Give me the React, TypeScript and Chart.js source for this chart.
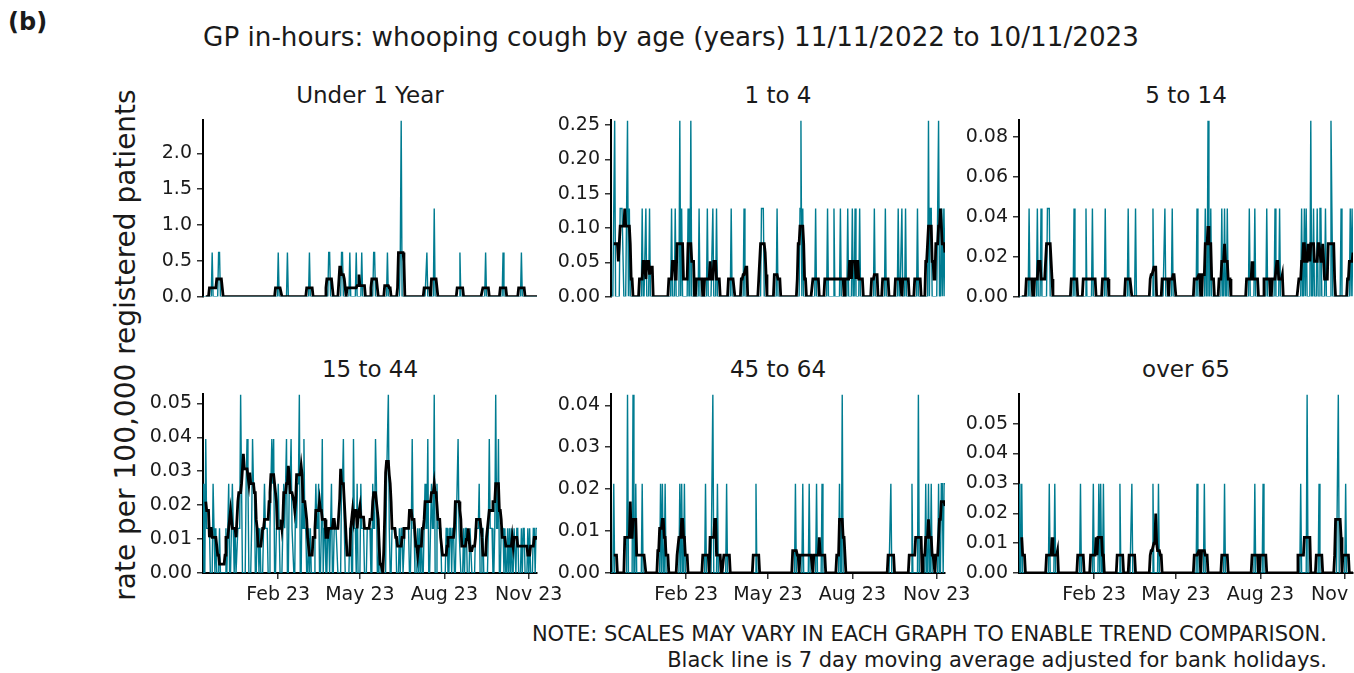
import React, { useEffect, useRef } from 'react';
import { Chart, registerables } from 'chart.js';

Chart.register(...registerables);

const FONT = "'DejaVu Sans', 'Liberation Sans', sans-serif";
Chart.defaults.font.family = FONT;

// ---- calendar: day 0 = Fri 11/11/2022 ... day 364 = Fri 10/11/2023
const NDAYS = 365;
const bankHolidayDays = [45, 46, 52, 147, 150, 171, 178, 199, 290];
const xTickDays = [82, 171, 263, 355];
const xTickLabels = ['Feb 23', 'May 23', 'Aug 23', 'Nov 23'];

// ---- Under 1 Year (rate for one patient = unit)
const under1Unit = 0.615;
const under1Days = [10, 17, 18, 82, 92, 116, 137, 138, 151, 152, 160, 167, 173, 186, 187, 201, 215, 216, 244, 252, 280, 308, 327, 347];
const under1Counts = [1, 1, 1, 1, 1, 1, 1, 1, 1, 1, 1, 1, 1, 1, 1, 1, 1, 4, 1, 2, 1, 1, 1, 1];
const under1Ticks = [0, 0.5, 1, 1.5, 2];

// ---- 1 to 4
const age1to4Unit = 0.1283;
const age1to4Days = [3, 4, 10, 11, 12, 13, 17, 18, 20, 34, 38, 42, 66, 70, 75, 77, 84, 87, 96, 105, 111, 115, 131, 145, 164, 165, 166, 181, 206, 207, 209, 223, 236, 243, 250, 258, 263, 266, 271, 287, 299, 313, 317, 321, 334, 346, 348, 349, 356, 357, 360, 362, 364];
const age1to4Counts = [1, 2, 1, 1, 1, 1, 1, 2, 1, 1, 1, 1, 1, 1, 2, 1, 1, 2, 1, 1, 1, 1, 1, 1, 1, 1, 1, 1, 1, 2, 1, 1, 1, 1, 1, 1, 1, 1, 1, 1, 1, 1, 1, 1, 1, 2, 1, 1, 1, 2, 1, 1, 1];
const age1to4Ticks = [0, 0.05, 0.1, 0.15, 0.2, 0.25];

// ---- 5 to 14
const age5to14Unit = 0.0442;
const age5to14Days = [11, 20, 24, 31, 32, 33, 60, 73, 80, 94, 119, 127, 146, 159, 167, 194, 203, 206, 209, 221, 224, 227, 251, 257, 270, 279, 284, 308, 311, 313, 318, 321, 325, 328, 329, 334, 340, 341, 351, 361, 363];
const age5to14Counts = [1, 1, 1, 1, 1, 1, 1, 1, 1, 1, 1, 1, 1, 1, 1, 1, 1, 2, 1, 1, 1, 1, 1, 1, 1, 1, 1, 1, 1, 1, 2, 1, 1, 1, 1, 1, 2, 1, 1, 1, 1];
const age5to14Ticks = [0, 0.02, 0.04, 0.06, 0.08];

// ---- 15 to 44 (weekly rows: Fri, Sat, Sun, Mon, Tue, Wed, Thu)
const age15to44Unit = 0.01316;
const age15to44Weeks = [
  [2, 0, 0, 3, 1, 1, 1], [1, 0, 0, 0, 2, 1, 0], [1, 0, 0, 0, 1, 0, 0], [0, 0, 0, 0, 1, 0, 1],
  [2, 0, 0, 1, 2, 1, 0], [1, 0, 0, 1, 1, 1, 4], [2, 0, 0, 0, 0, 2, 3], [2, 0, 0, 0, 1, 3, 2],
  [2, 0, 0, 1, 1, 0, 1], [0, 0, 0, 1, 2, 1, 1], [1, 0, 0, 1, 2, 3, 2], [3, 0, 0, 1, 1, 2, 1],
  [0, 0, 0, 1, 2, 1, 2], [3, 0, 0, 2, 2, 3, 1], [1, 0, 0, 2, 1, 2, 2], [4, 0, 0, 2, 1, 3, 1],
  [1, 0, 0, 1, 0, 1, 0], [0, 0, 0, 1, 2, 1, 1], [2, 0, 0, 1, 3, 0, 1], [1, 0, 0, 1, 1, 0, 1],
  [2, 0, 0, 1, 1, 1, 1], [0, 0, 0, 0, 2, 2, 3], [1, 0, 0, 0, 0, 0, 1], [1, 0, 0, 3, 1, 1, 0],
  [2, 0, 0, 0, 2, 1, 1], [1, 0, 0, 0, 1, 1, 1], [1, 0, 0, 2, 1, 1, 3], [2, 0, 0, 1, 0, 0, 0],
  [0, 0, 0, 0, 2, 3, 4], [1, 0, 0, 1, 1, 1, 1], [1, 0, 0, 0, 1, 0, 1], [1, 0, 0, 1, 1, 1, 1],
  [1, 0, 0, 1, 3, 1, 1], [0, 0, 0, 1, 0, 1, 0], [1, 0, 0, 1, 2, 1, 1], [3, 0, 0, 1, 2, 1, 1],
  [4, 0, 0, 2, 1, 1, 1], [1, 0, 0, 0, 0, 0, 1], [1, 0, 0, 1, 1, 0, 1], [1, 0, 0, 1, 2, 3, 1],
  [1, 0, 0, 0, 1, 0, 1], [1, 0, 0, 0, 1, 1, 0], [0, 0, 0, 1, 1, 1, 1], [2, 0, 0, 1, 1, 0, 0],
  [0, 0, 0, 1, 3, 1, 1], [1, 0, 0, 1, 4, 1, 1], [3, 0, 0, 1, 1, 1, 0], [1, 0, 0, 1, 0, 1, 0],
  [1, 0, 0, 1, 1, 0, 1], [1, 0, 0, 0, 1, 0, 1], [1, 0, 0, 0, 1, 0, 1], [0, 0, 0, 1, 1, 0, 1],
  [1],
];
const age15to44Ticks = [0, 0.01, 0.02, 0.03, 0.04, 0.05];

// ---- 45 to 64
const age45to64Unit = 0.0213;
const age45to64Days = [3, 18, 24, 27, 34, 54, 56, 59, 75, 77, 80, 103, 111, 116, 126, 158, 201, 209, 216, 224, 230, 249, 252, 305, 328, 335, 343, 346, 349, 357, 360, 361, 363, 364];
const age45to64Counts = [1, 2, 2, 1, 1, 1, 1, 1, 1, 1, 1, 1, 2, 1, 1, 1, 1, 1, 1, 1, 1, 1, 2, 1, 1, 2, 1, 1, 1, 1, 1, 1, 1, 1];
const age45to64Ticks = [0, 0.01, 0.02, 0.03, 0.04];

// ---- over 65
const over65Unit = 0.0299;
const over65Days = [0, 3, 33, 39, 67, 81, 87, 89, 92, 110, 123, 146, 152, 194, 202, 224, 257, 266, 307, 314, 327, 347, 348, 356];
const over65Counts = [1, 1, 1, 1, 1, 1, 1, 1, 1, 1, 1, 1, 1, 1, 1, 1, 1, 1, 1, 2, 1, 1, 2, 1];
const over65Ticks = [0, 0.01, 0.02, 0.03, 0.04, 0.05];

const TEAL = '#007C91';
const TEXT = '#1a1a1a';

function sparseToDaily(days: number[], counts: number[], unit: number): number[] {
  const out = new Array(NDAYS).fill(0);
  days.forEach((d, i) => {
    out[d] += counts[i] * unit;
  });
  return out;
}

function isWorkday(d: number): boolean {
  const w = d % 7; // 0 Fri, 1 Sat, 2 Sun
  return w !== 1 && w !== 2 && !bankHolidayDays.includes(d);
}

// centred 7 day moving average over working days (adjusted for bank holidays)
function movingAverage(v: number[]): (number | null)[] {
  return v.map((_, d) => {
    if (d < 3) return null;
    let s = 0;
    let n = 0;
    for (let k = d - 3; k <= d + 3; k++) {
      if (k < 0 || k >= v.length || !isWorkday(k)) continue;
      s += v[k];
      n++;
    }
    return n ? s / n : null;
  });
}

type Panel = {
  title: string;
  daily: number[];
  yTicks: number[];
  decimals: number;
  col: number;
  row: number;
};

const panels: Panel[] = [
  { title: 'Under 1 Year', daily: sparseToDaily(under1Days, under1Counts, under1Unit), yTicks: under1Ticks, decimals: 1, col: 0, row: 0 },
  { title: '1 to 4', daily: sparseToDaily(age1to4Days, age1to4Counts, age1to4Unit), yTicks: age1to4Ticks, decimals: 2, col: 1, row: 0 },
  { title: '5 to 14', daily: sparseToDaily(age5to14Days, age5to14Counts, age5to14Unit), yTicks: age5to14Ticks, decimals: 2, col: 2, row: 0 },
  { title: '15 to 44', daily: age15to44Weeks.flat().map((c) => c * age15to44Unit), yTicks: age15to44Ticks, decimals: 2, col: 0, row: 1 },
  { title: '45 to 64', daily: sparseToDaily(age45to64Days, age45to64Counts, age45to64Unit), yTicks: age45to64Ticks, decimals: 2, col: 1, row: 1 },
  { title: 'over 65', daily: sparseToDaily(over65Days, over65Counts, over65Unit), yTicks: over65Ticks, decimals: 2, col: 2, row: 1 },
];

// layout
const AXIS_X = [203, 611, 1019];
const DATA_TOP = [118, 392];
const PLOT_W = 334;
const PLOT_H = 181;
const Y_AXIS_W = 70;
const PAD_TOP = 14;
const PAD_RIGHT = 40;
const PAD_BOTTOM_NOX = 14;
const X_AXIS_H = 40;

function ChartPanel({ p }: { p: Panel }) {
  const ref = useRef<HTMLCanvasElement>(null);
  const showX = p.row === 1;
  const width = Y_AXIS_W + PLOT_W + PAD_RIGHT;
  const height = PAD_TOP + PLOT_H + (showX ? X_AXIS_H : PAD_BOTTOM_NOX);
  const left = AXIS_X[p.col] - Y_AXIS_W;
  const top = DATA_TOP[p.row] - PAD_TOP;

  useEffect(() => {
    const ma = movingAverage(p.daily);
    const yMax = Math.max(...p.daily);
    const chart = new Chart(ref.current as HTMLCanvasElement, {
      type: 'line',
      data: {
        datasets: [
          {
            data: ma.map((y, x) => ({ x, y })),
            borderColor: '#000000',
            borderWidth: 2.8,
            pointRadius: 0,
            tension: 0,
            spanGaps: false,
            order: 1,
          },
          {
            data: p.daily.map((y, x) => ({ x, y })),
            borderColor: TEAL,
            borderWidth: 1.4,
            pointRadius: 0,
            tension: 0,
            order: 2,
          },
        ],
      },
      options: {
        animation: false,
        responsive: false,
        maintainAspectRatio: false,
        events: [],
        layout: { padding: { top: PAD_TOP, right: PAD_RIGHT, left: 0, bottom: showX ? 0 : PAD_BOTTOM_NOX } },
        plugins: { legend: { display: false }, tooltip: { enabled: false }, title: { display: false } },
        scales: {
          x: {
            type: 'linear',
            min: 0,
            max: NDAYS - 1,
            display: showX,
            afterBuildTicks: (s: any) => {
              s.ticks = xTickDays.map((v) => ({ value: v }));
            },
            afterFit: (s: any) => {
              s.height = showX ? X_AXIS_H : 0;
            },
            ticks: {
              autoSkip: false,
              maxRotation: 0,
              minRotation: 0,
              padding: 5,
              color: TEXT,
              font: { size: 19 },
              callback: (v: any) => {
                const i = xTickDays.indexOf(Number(v));
                return i >= 0 ? xTickLabels[i] : '';
              },
            },
            grid: { display: true, drawOnChartArea: false, drawTicks: true, tickLength: 6, color: '#333333', lineWidth: 1.5 },
            border: { display: true, color: '#000000', width: 2 },
          },
          y: {
            type: 'linear',
            min: 0,
            max: yMax,
            afterBuildTicks: (s: any) => {
              s.ticks = p.yTicks.map((v) => ({ value: v }));
            },
            afterFit: (s: any) => {
              s.width = Y_AXIS_W;
            },
            ticks: {
              padding: 5,
              color: TEXT,
              font: { size: 19 },
              callback: (v: any) => Number(v).toFixed(p.decimals),
            },
            grid: { display: true, drawOnChartArea: false, drawTicks: true, tickLength: 6, color: '#333333', lineWidth: 1.5 },
            border: { display: true, color: '#000000', width: 2 },
          },
        },
      } as any,
    });
    return () => chart.destroy();
  }, []);

  return (
    <canvas
      ref={ref}
      width={width}
      height={height}
      style={{ position: 'absolute', left, top, width, height }}
    />
  );
}

function Text({
  text, x, y, size, align = 'center', bold = false, rotate = false,
}: { text: string; x: number; y: number; size: number; align?: 'center' | 'right' | 'left'; bold?: boolean; rotate?: boolean }) {
  const tx = align === 'center' ? '-50%' : align === 'right' ? '-100%' : '0';
  return (
    <div
      style={{
        position: 'absolute',
        left: x,
        top: y,
        fontSize: size,
        lineHeight: 1,
        fontWeight: bold ? 'bold' : 'normal',
        whiteSpace: 'nowrap',
        color: TEXT,
        transform: rotate ? 'translate(-50%, -50%) rotate(-90deg)' : `translate(${tx}, -50%)`,
      }}
    >
      {text}
    </div>
  );
}

export default function App() {
  return (
    <div
      style={{
        position: 'absolute',
        left: 0,
        top: 0,
        width: 1354,
        height: 673,
        overflow: 'hidden',
        background: '#ffffff',
        fontFamily: FONT,
      }}
    >
      <Text text="(b)" x={8} y={22} size={24} align="left" bold />
      <Text text="GP in-hours: whooping cough by age (years) 11/11/2022 to 10/11/2023" x={671} y={37} size={26.2} />
      <Text text="rate per 100,000 registered patients" x={126} y={345} size={28} rotate />
      {panels.map((p) => (
        <Text key={'t' + p.title} text={p.title} x={AXIS_X[p.col] + PLOT_W / 2} y={p.row === 0 ? 95 : 369} size={23} />
      ))}
      {panels.map((p) => (
        <ChartPanel key={p.title} p={p} />
      ))}
      <Text text="NOTE: SCALES MAY VARY IN EACH GRAPH TO ENABLE TREND COMPARISON." x={1327} y={634} size={21} align="right" />
      <Text text="Black line is 7 day moving average adjusted for bank holidays." x={1327} y={660} size={21} align="right" />
    </div>
  );
}
